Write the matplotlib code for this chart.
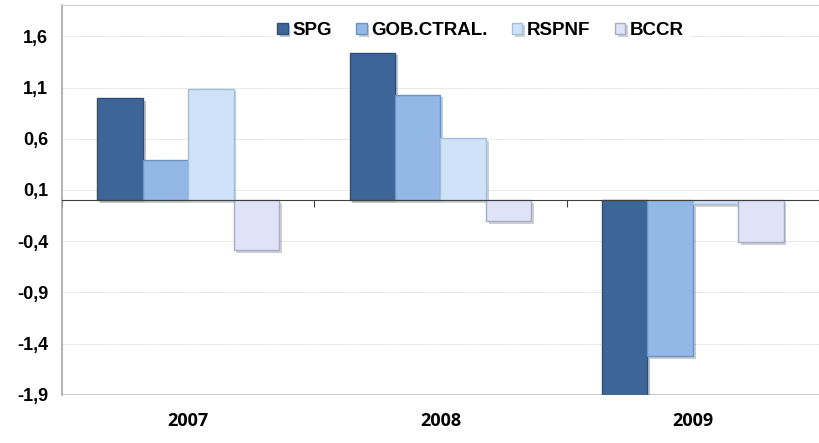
import matplotlib.pyplot as plt
import matplotlib.patheffects as pe
import numpy as np

years = ["2007", "2008", "2009"]
series = ["SPG", "GOB.CTRAL.", "RSPNF", "BCCR"]
spg = [1.00, 1.44, -2.05]
gob = [0.39, 1.03, -1.52]
rspnf = [1.09, 0.61, -0.04]
bccr = [-0.49, -0.20, -0.41]
yticks = [-1.9, -1.4, -0.9, -0.4, 0.1, 0.6, 1.1, 1.6]

colors = ["#3D6698", "#93B8E6", "#CFE3F8", "#E0E2F8"]
edges = ["#2C4E78", "#6E93C2", "#A6BDD6", "#A7ABC6"]

fig = plt.figure(figsize=(8.19, 4.43), dpi=100)
ax = fig.add_axes([0.0757, 0.1084, 0.9243, 0.8803])

x = np.arange(len(years))
width = 0.18
values = [spg, gob, rspnf, bccr]
for i, (name, vals) in enumerate(zip(series, values)):
    bars = ax.bar(x + (i - 1.5) * width, vals, width, color=colors[i],
                  edgecolor=edges[i], linewidth=1.0, label=name, zorder=3)
    for b in bars:
        b.set_path_effects([pe.SimplePatchShadow(offset=(2, -2), alpha=0.25),
                            pe.Normal()])

ax.set_xlim(-0.5, 2.5)
ax.set_ylim(-1.9, 1.905)
ax.set_yticks(yticks)
ax.set_yticklabels([f"{v:.1f}".replace(".", ",") for v in yticks],
                   fontsize=13, fontweight="bold", family="Liberation Sans")
ax.tick_params(axis="y", length=0, pad=10)
ax.grid(axis="y", color="#DADADA", linestyle=(0, (2, 1)), linewidth=0.6, zorder=0)

# category axis crossing at zero
ax.spines["bottom"].set_position(("data", 0))
ax.spines["bottom"].set_color("#404040")
ax.spines["bottom"].set_zorder(4)
ax.set_xticks([-0.5, 0.5, 1.5, 2.5])
ax.set_xticklabels([])
ax.tick_params(axis="x", direction="out", length=5, color="#404040")
for xi, yr in zip(x, years):
    ax.text(xi, -0.068, yr, transform=ax.get_xaxis_transform(), ha="center",
            va="center", fontsize=13, fontweight="bold", family="Open Sans")
ax.axhline(-1.9, color="#BFBFBF", linewidth=1.2, zorder=2)

ax.spines["left"].set_color("#A6A6A6")
ax.spines["left"].set_linewidth(1.2)
ax.spines["top"].set_color("#D0D0D0")
ax.spines["right"].set_visible(False)

leg = ax.legend(loc="upper center", bbox_to_anchor=(0.553, 0.995), ncol=4,
                frameon=True, fancybox=False, edgecolor="white", framealpha=1,
                prop={"family": "Liberation Sans", "weight": "bold", "size": 13.5},
                handlelength=0.55, handleheight=0.55, handletextpad=0.25,
                columnspacing=1.3, borderpad=0.3)
leg.set_zorder(5)

fig.savefig("out.png", dpi=100)
